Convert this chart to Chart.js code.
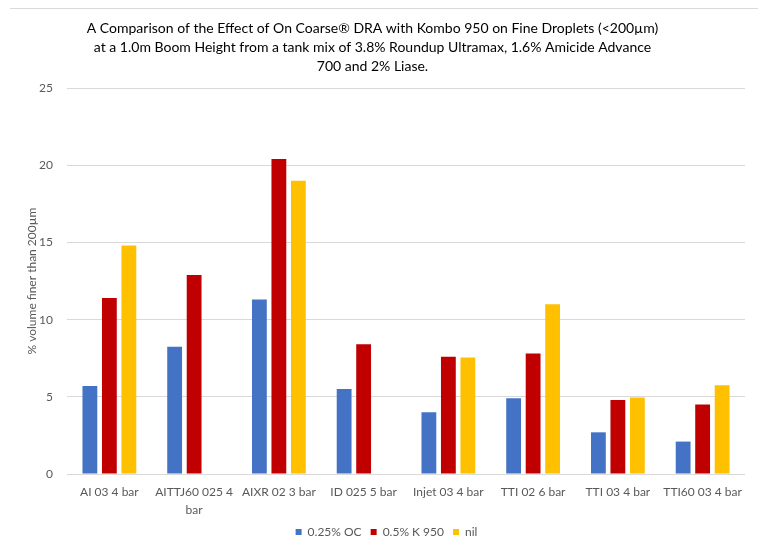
<!DOCTYPE html>
<html>
<head>
<meta charset="utf-8">
<script src="https://cdn.jsdelivr.net/npm/chart.js@4.4.1/dist/chart.umd.min.js"></script>
<style>
  html, body { margin: 0; padding: 0; background: #ffffff; }
  #wrap { width: 758px; height: 548px; position: relative; }
</style>
</head>
<body>
<div id="wrap"><canvas id="c" width="758" height="548"></canvas></div>
<script>
const categories = [
  'AI 03 4 bar',
  ['AITTJ60 025 4', 'bar'],
  'AIXR 02 3 bar',
  'ID 025 5 bar',
  'Injet 03 4 bar',
  'TTI 02 6 bar',
  'TTI 03 4 bar',
  'TTI60 03 4 bar'
];
const seriesNames = ['0.25% OC', '0.5% K 950', 'nil'];
const oc025 = [5.7, 8.25, 11.3, 5.5, 4.0, 4.9, 2.7, 2.1];
const k950 = [11.4, 12.9, 20.4, 8.4, 7.6, 7.8, 4.8, 4.5];
const nil = [14.8, null, 19.0, null, 7.55, 11.0, 4.95, 5.75];
const yTicks = [0, 5, 10, 15, 20, 25];
const titleLines = [
  'A Comparison of the Effect of On Coarse\u00AE DRA with Kombo 950 on Fine Droplets (<200\u00B5m)',
  'at a 1.0m Boom Height from a tank mix of 3.8% Roundup Ultramax, 1.6% Amicide Advance',
  '700 and 2% Liase.'
];
const yTitle = '% volume finer than 200\u00B5m';

const colors = ['#4472C4', '#C00000', '#FFC000'];
const font = 'Lato, "Open Sans", sans-serif';
const textColor = '#595959';

const topLine = {
  id: 'topLine',
  beforeDraw(chart) {
    const ctx = chart.ctx;
    ctx.save();
    ctx.fillStyle = '#ffffff';
    ctx.fillRect(0, 0, chart.width, chart.height);
    ctx.strokeStyle = '#d9d9d9';
    ctx.lineWidth = 1;
    ctx.beginPath();
    ctx.moveTo(10, 8.5);
    ctx.lineTo(758, 8.5);
    ctx.stroke();
    ctx.restore();
  },
  afterLayout(chart) {
    if (chart.legend) {
      chart.legend.left += 14;
      chart.legend.right += 14;
    }
  }
};

new Chart(document.getElementById('c'), {
  type: 'bar',
  data: {
    labels: categories,
    datasets: [oc025, k950, nil].map((d, i) => ({
      label: seriesNames[i],
      data: d,
      backgroundColor: colors[i],
      borderWidth: 0,
      categoryPercentage: 0.69,
      barPercentage: 0.76
    }))
  },
  options: {
    responsive: false,
    animation: false,
    layout: { padding: { top: 19, right: 13, left: 0, bottom: 0 } },
    plugins: {
      title: {
        display: true,
        text: titleLines,
        color: '#000000',
        font: { family: font, size: 14, weight: 'normal', lineHeight: 1.36 },
        padding: { top: 0, bottom: 12 }
      },
      legend: {
        position: 'bottom',
        labels: {
          boxWidth: 6,
          boxHeight: 6,
          color: textColor,
          font: { family: font, size: 12 },
          padding: 9
        }
      },
      tooltip: { enabled: false }
    },
    scales: {
      x: {
        afterFit(scale) { scale.height = 43; },
        grid: { display: false, drawTicks: false },
        border: { display: false },
        ticks: {
          color: textColor,
          font: { family: font, size: 12, lineHeight: 1.5 },
          maxRotation: 0,
          autoSkip: false,
          padding: 9
        }
      },
      y: {
        min: 0,
        max: 25,
        afterBuildTicks(scale) { scale.ticks = yTicks.map(v => ({ value: v })); },
        afterFit(scale) { scale.width = 67; },
        grid: { color: '#d9d9d9', drawTicks: false },
        border: { display: false },
        ticks: {
          color: textColor,
          font: { family: font, size: 12 },
          padding: 14
        },
        title: {
          display: true,
          text: yTitle,
          color: textColor,
          font: { family: font, size: 12 },
          padding: { top: 25, bottom: 0 }
        }
      }
    }
  },
  plugins: [topLine]
});
</script>
</body>
</html>
